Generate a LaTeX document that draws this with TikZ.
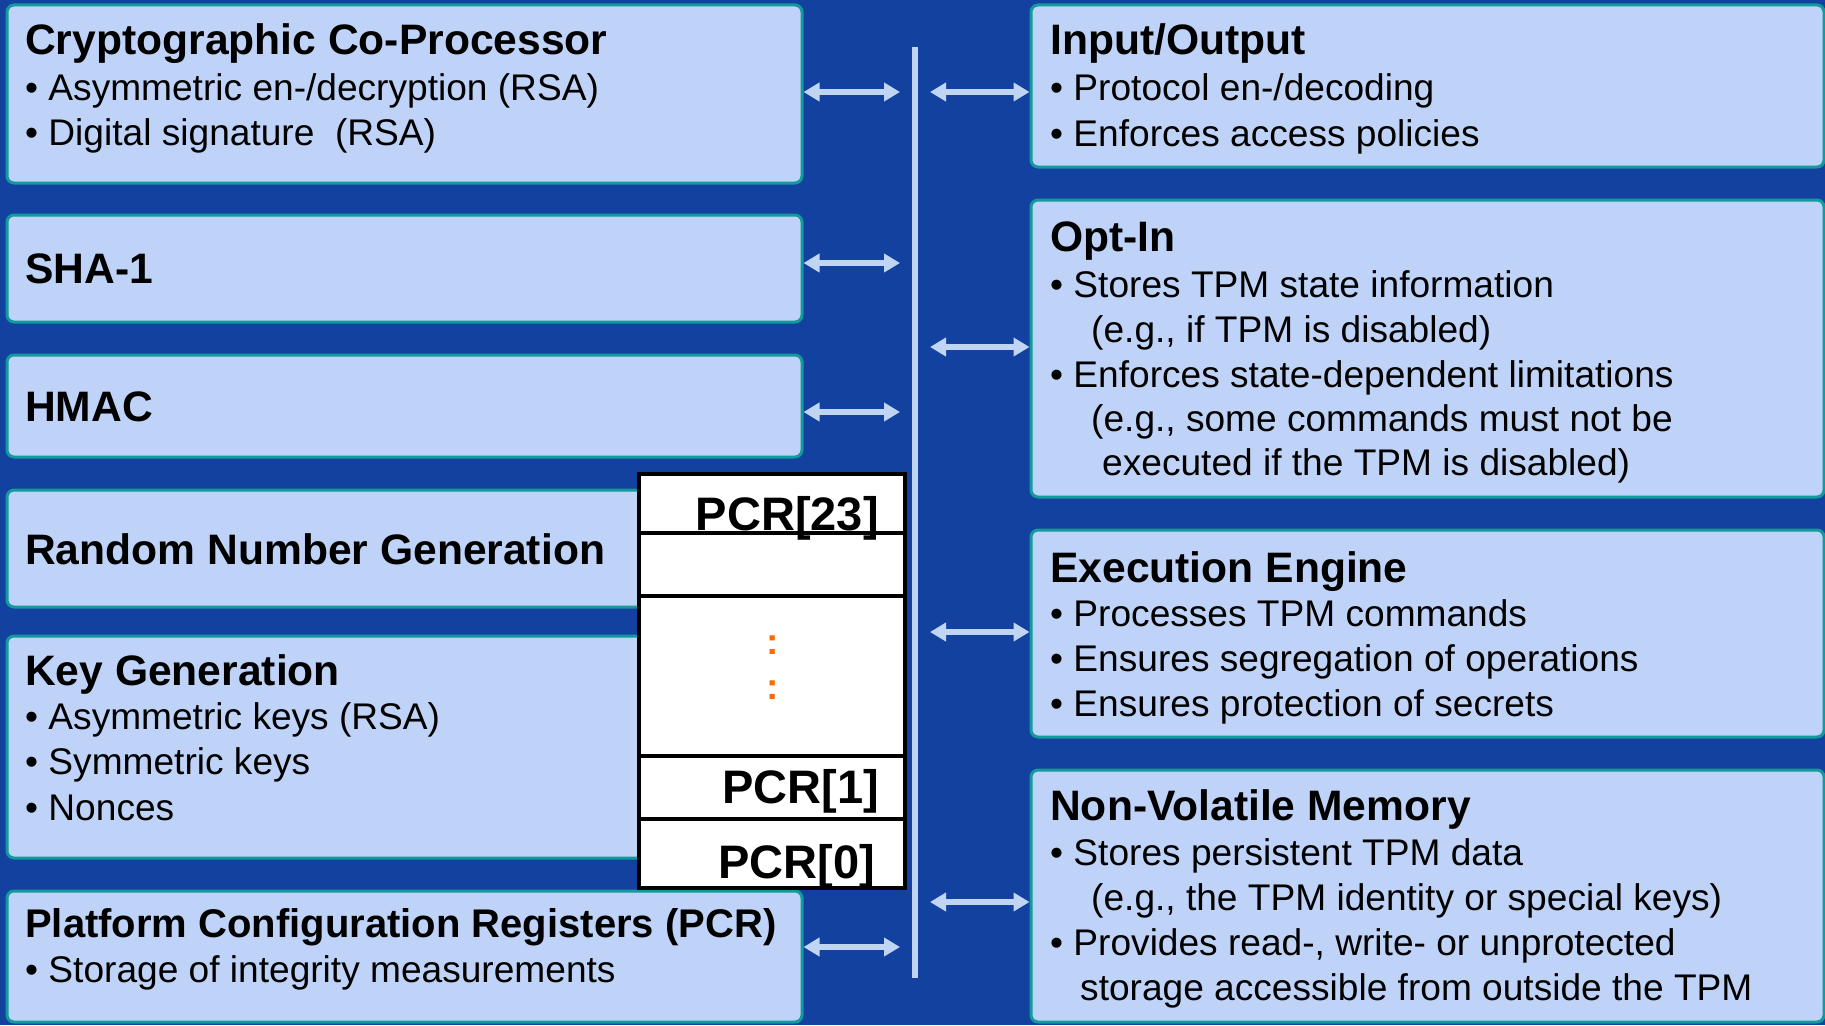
\documentclass[tikz,border=0pt]{standalone}
\usepackage{fontspec}
\setmainfont{Liberation Sans}
\usetikzlibrary{arrows.meta}
\definecolor{bgc}{HTML}{1241A0}
\definecolor{boxfill}{HTML}{BED3F7}
\definecolor{boxline}{HTML}{139A9B}
\definecolor{arrc}{HTML}{C0D4F4}
\definecolor{dotc}{HTML}{FF6A00}
\begin{document}
\begin{tikzpicture}[x=1pt,y=-1pt,
  box/.style={draw=boxline, fill=boxfill, line width=3pt, rounded corners=7pt,
    anchor=north west, inner sep=0pt, shape=rectangle},
  ttl/.style={anchor=base west, inner sep=0pt, font=\bfseries\fontsize{42.6}{42.6}\selectfont},
  txt/.style={anchor=base west, inner sep=0pt, font=\fontsize{37.1}{37.1}\selectfont},
  pcrlbl/.style={anchor=base east, inner sep=0pt, font=\bfseries\fontsize{47}{47}\selectfont},
  dotlbl/.style={anchor=base, inner sep=0pt, text=dotc, font=\bfseries\fontsize{37}{37}\selectfont},
  arr/.style={draw=arrc, line width=6pt, arrows={Triangle[length=16pt,width=18pt]-Triangle[length=16pt,width=18pt]}},
  sepline/.style={draw=black, line width=4pt}
]
\useasboundingbox (0,0) rectangle (1825,1025);
\fill[bgc] (0,0) rectangle (1825,1025);

% left boxes
\node[box, minimum width=795pt, minimum height=178pt] (crypto) at (5.5,3.5) {};
\node[box, minimum width=795pt, minimum height=107pt] (sha) at (5.5,213.5) {};
\node[box, minimum width=795pt, minimum height=102pt] (hmac) at (5.5,353.5) {};
\node[box, minimum width=795pt, minimum height=117pt] (rng) at (5.5,488.5) {};
\node[box, minimum width=795pt, minimum height=222pt] (keygen) at (5.5,634.5) {};
\node[box, minimum width=795pt, minimum height=131pt] (pcrb) at (5.5,889.5) {};

% right boxes
\node[box, minimum width=793pt, minimum height=162pt] (io) at (1029.5,3.5) {};
\node[box, minimum width=793pt, minimum height=297pt] (optin) at (1029.5,198.5) {};
\node[box, minimum width=793pt, minimum height=207pt] (exec) at (1029.5,528.5) {};
\node[box, minimum width=793pt, minimum height=252pt] (nvm) at (1029.5,768.5) {};

% bus
\node[fill=arrc, draw=none, inner sep=0pt, outer sep=0pt, minimum width=6pt, minimum height=931pt] (bus) at (915,512.5) {};
\coordinate (busL) at ([xshift=-12pt]bus.west);
\coordinate (busR) at ([xshift=12pt]bus.east);

% arrows
\draw[arr] (crypto.east |- 0,92) -- (busL |- 0,92);
\draw[arr] (sha.east |- 0,263) -- (busL |- 0,263);
\draw[arr] (hmac.east |- 0,412) -- (busL |- 0,412);
\draw[arr] (pcrb.east |- 0,947) -- (busL |- 0,947);
\draw[arr] (busR |- 0,92) -- (io.west |- 0,92);
\draw[arr] (busR |- 0,347) -- (optin.west |- 0,347);
\draw[arr] (busR |- 0,632) -- (exec.west |- 0,632);
\draw[arr] (busR |- 0,902) -- (nvm.west |- 0,902);

% PCR register stack
\node[draw=black, fill=white, line width=4pt, inner sep=0pt, outer sep=0pt, anchor=north west,
  minimum width=266pt, minimum height=414pt] (pcrreg) at (639,474) {};
\draw[sepline] (pcrreg.west |- 0,533) -- (pcrreg.east |- 0,533);
\draw[sepline] (pcrreg.west |- 0,596) -- (pcrreg.east |- 0,596);
\draw[sepline] (pcrreg.west |- 0,756) -- (pcrreg.east |- 0,756);
\draw[sepline] (pcrreg.west |- 0,819) -- (pcrreg.east |- 0,819);
\node[pcrlbl] (pcr23) at (879,530) {PCR[23]};
\node[pcrlbl] (pcr1) at (879,803) {PCR[1]};
\node[pcrlbl] (pcr0) at (875,878) {PCR[0]};
\node[dotlbl] (dots1) at (773,654.5) {:};
\node[dotlbl] (dots2) at (773,699.5) {:};

% left texts
\node[ttl] (crypto-t) at (25,55) {Cryptographic Co-Processor};
\node[txt] (crypto-1) at (25,100) {• Asymmetric en-/decryption (RSA)};
\node[txt] (crypto-2) at (25,145) {• Digital signature\ \ (RSA)};
\node[ttl] (sha-t) at (25,283) {SHA-1};
\node[ttl] (hmac-t) at (25,421) {HMAC};
\node[ttl] (rng-t) at (25,564) {Random Number Generation};
\node[ttl] (key-t) at (25,685) {Key Generation};
\node[txt] (key-1) at (25,729) {• Asymmetric keys (RSA)};
\node[txt] (key-2) at (25,774) {• Symmetric keys};
\node[txt] (key-3) at (25,820) {• Nonces};
\node[ttl, font=\bfseries\fontsize{40}{40}\selectfont] (pcr-t) at (25,937) {Platform Configuration Registers (PCR)};
\node[txt] (pcr-1) at (25,982) {• Storage of integrity measurements};

% right texts
\node[ttl] (io-t) at (1050,55) {Input/Output};
\node[txt] (io-1) at (1050,100) {• Protocol en-/decoding};
\node[txt] (io-2) at (1050,146) {• Enforces access policies};
\node[ttl] (opt-t) at (1050,251) {Opt-In};
\node[txt] (opt-1) at (1050,297) {• Stores TPM state information};
\node[txt] (opt-2) at (1091,342) {(e.g., if TPM is disabled)};
\node[txt] (opt-3) at (1050,387) {• Enforces state-dependent limitations};
\node[txt] (opt-4) at (1091,431) {(e.g., some commands must not be};
\node[txt] (opt-5) at (1102,475) {executed if the TPM is disabled)};
\node[ttl] (ex-t) at (1050,582) {Execution Engine};
\node[txt] (ex-1) at (1050,626) {• Processes TPM commands};
\node[txt] (ex-2) at (1050,671) {• Ensures segregation of operations};
\node[txt] (ex-3) at (1050,716) {• Ensures protection of secrets};
\node[ttl] (nvm-t) at (1050,820) {Non-Volatile Memory};
\node[txt] (nvm-1) at (1050,865) {• Stores persistent TPM data};
\node[txt] (nvm-2) at (1091,910) {(e.g., the TPM identity or special keys)};
\node[txt] (nvm-3) at (1050,955) {• Provides read-, write- or unprotected};
\node[txt] (nvm-4) at (1080,1000) {storage accessible from outside the TPM};
\end{tikzpicture}
\end{document}
